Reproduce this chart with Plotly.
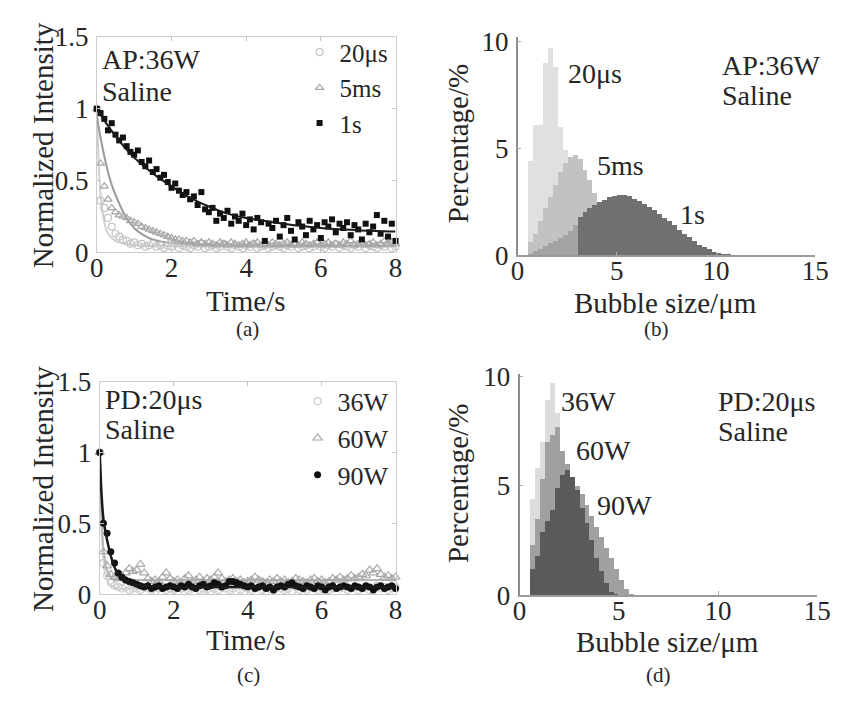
import numpy as np
import plotly.graph_objects as go

# ---------------- data ----------------
# time axis of the decay curves (s)
t = np.round(np.arange(0, 8.01, 0.1), 1)

# (a) AP:36W, saline, normalized intensity vs time
a_20us = [1.00, 0.36, 0.31, 0.24, 0.18, 0.13, 0.11, 0.09, 0.08, 0.06, 0.07, 0.05, 0.06, 0.04, 0.05, 0.06, 0.04, 0.05, 0.03, 0.05,
          0.04, 0.06, 0.03, 0.05, 0.04, 0.03, 0.05, 0.04, 0.06, 0.03,
          0.04, 0.05, 0.03, 0.04, 0.06, 0.04, 0.03, 0.05, 0.04, 0.03,
          0.05, 0.04, 0.06, 0.03, 0.04, 0.05, 0.03, 0.04, 0.05, 0.04,
          0.03, 0.05, 0.04, 0.06, 0.03, 0.04, 0.05, 0.03, 0.04, 0.06,
          0.04, 0.03, 0.05, 0.04, 0.06, 0.03, 0.05, 0.04, 0.03, 0.05,
          0.04, 0.06, 0.03, 0.05, 0.04, 0.03, 0.05, 0.04, 0.06, 0.03,
          0.04]
a_5ms = [1.00, 0.62, 0.46, 0.37, 0.31, 0.28, 0.26, 0.25, 0.24, 0.22,
         0.21, 0.20, 0.18, 0.17, 0.16, 0.15, 0.14, 0.13, 0.12, 0.11,
         0.10, 0.09, 0.09, 0.08, 0.08, 0.07, 0.08, 0.06, 0.07, 0.06,
         0.07, 0.06, 0.05, 0.07, 0.06, 0.05, 0.07, 0.06, 0.05, 0.06,
         0.07, 0.05, 0.06, 0.07, 0.05, 0.06, 0.05, 0.07, 0.06, 0.05,
         0.06, 0.07, 0.05, 0.06, 0.05, 0.07, 0.06, 0.05, 0.06, 0.07,
         0.05, 0.06, 0.07, 0.05, 0.06, 0.05, 0.07, 0.06, 0.08, 0.05,
         0.06, 0.07, 0.05, 0.06, 0.07, 0.05, 0.06, 0.08, 0.06, 0.07,
         0.06]
a_1s = [1.00, 0.97, 0.93, 0.85, 0.90, 0.82, 0.78, 0.80, 0.74, 0.70,
        0.68, 0.71, 0.63, 0.60, 0.64, 0.56, 0.58, 0.52, 0.54, 0.49,
        0.45, 0.48, 0.43, 0.40, 0.42, 0.37, 0.39, 0.33, 0.42, 0.30,
        0.28, 0.31, 0.22, 0.27, 0.24, 0.29, 0.20, 0.25, 0.22, 0.27,
        0.19, 0.23, 0.16, 0.24, 0.21, 0.08, 0.20, 0.17, 0.22, 0.11,
        0.19, 0.24, 0.15, 0.09, 0.21, 0.18, 0.12, 0.22, 0.16, 0.19,
        0.10, 0.21, 0.18, 0.23, 0.14, 0.20, 0.17, 0.21, 0.12, 0.19,
        0.16, 0.09, 0.20, 0.14, 0.18, 0.26, 0.13, 0.22, 0.11, 0.20,
        0.08]

# exponential fit curves for (a), sampled at knots
fit_1s_t = [0, 0.25, 0.5, 0.75, 1, 1.5, 2, 2.5, 3, 3.5, 4, 5, 6, 7, 8]
fit_1s = [1.0, 0.90, 0.81, 0.73, 0.66, 0.55, 0.46, 0.38, 0.32, 0.27, 0.24, 0.20, 0.17, 0.155, 0.145]
fit_5ms_t = [0, 0.1, 0.2, 0.3, 0.4, 0.5, 0.75, 1, 1.25, 1.5, 2, 3, 4, 6, 8]
fit_5ms = [0.95, 0.80, 0.67, 0.56, 0.47, 0.40, 0.26, 0.17, 0.12, 0.09, 0.065, 0.05, 0.045, 0.045, 0.045]
fit_20us_t = [0, 0.05, 0.1, 0.2, 0.3, 0.5, 0.75, 1, 2, 4, 8]
fit_20us = [1.0, 0.62, 0.40, 0.21, 0.13, 0.08, 0.06, 0.05, 0.045, 0.04, 0.04]

# (c) PD:20us, saline
c_36w = [1.00, 0.22, 0.13, 0.08, 0.06, 0.05, 0.04, 0.05, 0.03, 0.04,
         0.04, 0.03, 0.05, 0.04, 0.03, 0.02, 0.04, 0.05, 0.03, 0.04,
         0.03, 0.05, 0.04, 0.02, 0.03, 0.04, 0.05, 0.03, 0.04, 0.03,
         0.02, 0.04, 0.03, 0.05, 0.04, 0.03, 0.04, 0.02, 0.03, 0.05,
         0.04, 0.03, 0.04, 0.05, 0.03, 0.02, 0.04, 0.03, 0.05, 0.04,
         0.03, 0.04, 0.02, 0.05, 0.03, 0.04, 0.03, 0.05, 0.04, 0.03,
         0.04, 0.05, 0.03, 0.04, 0.06, 0.04, 0.05, 0.03, 0.04, 0.05,
         0.03, 0.04, 0.05, 0.03, 0.04, 0.06, 0.04, 0.05, 0.03, 0.04,
         0.05]
c_60w = [1.00, 0.30, 0.20, 0.14, 0.12, 0.11, 0.13, 0.15, 0.18, 0.16,
         0.17, 0.21, 0.15, 0.11, 0.09, 0.10, 0.09, 0.12, 0.15, 0.11,
         0.09, 0.10, 0.08, 0.11, 0.13, 0.09, 0.10, 0.12, 0.09, 0.11,
         0.10, 0.12, 0.15, 0.11, 0.09, 0.10, 0.11, 0.09, 0.10, 0.08,
         0.09, 0.10, 0.12, 0.10, 0.09, 0.08, 0.10, 0.09, 0.11, 0.09,
         0.10, 0.08, 0.09, 0.11, 0.10, 0.09, 0.08, 0.10, 0.11, 0.09,
         0.10, 0.08, 0.09, 0.11, 0.10, 0.12, 0.10, 0.11, 0.13, 0.11,
         0.12, 0.14, 0.13, 0.17, 0.15, 0.18, 0.14, 0.12, 0.13, 0.11,
         0.12]
c_90w = [1.00, 0.50, 0.43, 0.30, 0.22, 0.15, 0.12, 0.10, 0.09, 0.08,
         0.07, 0.06, 0.05, 0.06, 0.04, 0.05, 0.06, 0.04, 0.05, 0.06,
         0.05, 0.04, 0.06, 0.05, 0.07, 0.05, 0.04, 0.06, 0.07, 0.05,
         0.06, 0.08, 0.07, 0.05, 0.06, 0.09, 0.09, 0.08, 0.07, 0.06,
         0.05, 0.06, 0.04, 0.05, 0.06, 0.04, 0.05, 0.03, 0.05, 0.06,
         0.05, 0.07, 0.08, 0.06, 0.05, 0.04, 0.06, 0.05, 0.04, 0.06,
         0.05, 0.03, 0.05, 0.06, 0.04, 0.05, 0.06, 0.05, 0.04, 0.06,
         0.05, 0.04, 0.06, 0.05, 0.03, 0.05, 0.06, 0.04, 0.05, 0.06,
         0.04]

fit_90w_t = [0, 0.05, 0.1, 0.2, 0.3, 0.4, 0.5, 0.75, 1, 1.5, 2, 4, 8]
fit_90w = [1.0, 0.70, 0.53, 0.38, 0.27, 0.19, 0.14, 0.09, 0.065, 0.055, 0.05, 0.05, 0.05]
fit_60w_t = [0, 0.05, 0.1, 0.2, 0.3, 0.5, 1, 2, 8]
fit_60w = [1.0, 0.55, 0.32, 0.17, 0.12, 0.10, 0.10, 0.10, 0.10]
fit_36w_t = [0, 0.05, 0.1, 0.2, 0.3, 0.5, 1, 8]
fit_36w = [1.0, 0.45, 0.24, 0.10, 0.06, 0.04, 0.04, 0.04]

# (b), (d) bubble size histograms, 0.25 um bins starting at 0.5 um (percent)
bin_w = 0.25
bin_start = 0.5
b_20us = [4.4, 6.1, 6.1, 9.0, 9.7, 8.8, 6.0, 4.9, 3.5, 2.3, 1.3, 0.6, 0.2]
b_5ms = [0.6, 1.0, 1.6, 2.2, 2.7, 3.3, 3.9, 4.3, 4.6, 4.7, 4.5, 4.0, 3.5, 2.9, 2.3, 1.8,
         1.3, 0.9, 0.6, 0.4, 0.2, 0.1]
b_1s = [0.08, 0.18, 0.30, 0.42, 0.55, 0.68, 0.82, 0.97, 1.15, 1.40,
        1.80, 2.00, 2.20, 2.35, 2.50, 2.60, 2.70, 2.78, 2.80, 2.80,
        2.75, 2.65, 2.55, 2.40, 2.25, 2.10, 1.95, 1.75, 1.60, 1.40,
        1.20, 1.00, 0.85, 0.65, 0.50, 0.38, 0.27, 0.17, 0.10, 0.05,
        0.02, 0.01]
d_36w = [4.4, 5.8, 7.0, 8.9, 9.7, 8.3, 6.5, 4.6, 3.0, 1.8, 1.0, 0.5, 0.2]
d_60w = [2.3, 3.5, 5.3, 7.0, 7.3, 7.7, 6.6, 6.0, 5.4, 5.0, 4.6, 4.1, 3.6, 3.1, 2.65, 2.15,
         1.7, 1.2, 0.7, 0.3, 0.05]
d_90w = [1.2, 1.8, 2.9, 3.4, 3.9, 4.9, 5.5, 5.7, 5.4, 4.8, 4.0, 3.3, 2.5, 1.7, 1.1, 0.55,
         0.15, 0.05]


def edges(vals):
    return [bin_start + i * bin_w for i in range(len(vals))]


# ---------------- figure ----------------
W, H = 841, 702
FONT = "'Liberation Serif', 'Times New Roman', Times, serif"
TXT = "#262626"


def fx(p):
    return p / W


def fy(p):
    return 1 - p / H


fig = go.Figure()

# panel (a)
fig.add_trace(go.Scatter(x=fit_20us_t, y=fit_20us, mode="lines", line=dict(color="#cfcfcf", width=2, shape="spline", smoothing=0.8),
                         xaxis="x", yaxis="y", showlegend=False))
fig.add_trace(go.Scatter(x=fit_5ms_t, y=fit_5ms, mode="lines", line=dict(color="#9a9a9a", width=2, shape="spline", smoothing=0.8),
                         xaxis="x", yaxis="y", showlegend=False))
fig.add_trace(go.Scatter(x=t, y=a_20us, mode="markers", name="20\u03bcs",
                         marker=dict(symbol="circle-open", size=7, color="#c4c4c4", line=dict(width=1.2)),
                         xaxis="x", yaxis="y", legend="legend", cliponaxis=False))
fig.add_trace(go.Scatter(x=t, y=a_5ms, mode="markers", name="5ms",
                         marker=dict(symbol="triangle-up-open", size=7, color="#a6a6a6", line=dict(width=1.2)),
                         xaxis="x", yaxis="y", legend="legend", cliponaxis=False))
fig.add_trace(go.Scatter(x=t, y=a_1s, mode="markers", name="1s",
                         marker=dict(symbol="square", size=6, color="#111111"),
                         xaxis="x", yaxis="y", legend="legend", cliponaxis=False))
fig.add_trace(go.Scatter(x=fit_1s_t, y=fit_1s, mode="lines", line=dict(color="#1a1a1a", width=2, shape="spline", smoothing=0.8),
                         xaxis="x", yaxis="y", showlegend=False))

# panel (b): back to front 20us, 5ms, 1s
b_1s_colors = ["#a3a3a3" if e < 3.0 else "#707070" for e in edges(b_1s)]
for vals, col in [(b_20us, "#e0e0e0"), (b_5ms, "#c2c2c2"), (b_1s, b_1s_colors)]:
    fig.add_trace(go.Bar(x=edges(vals), y=vals, width=bin_w, offset=0, marker=dict(color=col, line=dict(width=0)),
                         xaxis="x2", yaxis="y2", showlegend=False))

# panel (c)
fig.add_trace(go.Scatter(x=fit_36w_t, y=fit_36w, mode="lines", line=dict(color="#d6d6d6", width=2, shape="spline", smoothing=0.8),
                         xaxis="x3", yaxis="y3", showlegend=False))
fig.add_trace(go.Scatter(x=fit_60w_t, y=fit_60w, mode="lines", line=dict(color="#b4b4b4", width=2, shape="spline", smoothing=0.8),
                         xaxis="x3", yaxis="y3", showlegend=False))
fig.add_trace(go.Scatter(x=t, y=c_36w, mode="markers", name="36W",
                         marker=dict(symbol="circle-open", size=7, color="#cccccc", line=dict(width=1.2)),
                         xaxis="x3", yaxis="y3", legend="legend2", cliponaxis=False))
fig.add_trace(go.Scatter(x=t, y=c_60w, mode="markers", name="60W",
                         marker=dict(symbol="triangle-up-open", size=8, color="#aaaaaa", line=dict(width=1.2)),
                         xaxis="x3", yaxis="y3", legend="legend2", cliponaxis=False))
fig.add_trace(go.Scatter(x=t, y=c_90w, mode="markers", name="90W",
                         marker=dict(symbol="circle", size=7, color="#111111"),
                         xaxis="x3", yaxis="y3", legend="legend2", cliponaxis=False))
fig.add_trace(go.Scatter(x=fit_90w_t, y=fit_90w, mode="lines", line=dict(color="#1a1a1a", width=2.5, shape="spline", smoothing=0.8),
                         xaxis="x3", yaxis="y3", showlegend=False))

# panel (d): back to front 36W, 60W, 90W
for vals, col in [(d_36w, "#dcdcdc"), (d_60w, "#a0a0a0"), (d_90w, "#5a5a5a")]:
    fig.add_trace(go.Bar(x=edges(vals), y=vals, width=bin_w, offset=0, marker=dict(color=col, line=dict(width=0)),
                         xaxis="x4", yaxis="y4", showlegend=False))

tickfont = dict(family=FONT, size=27, color=TXT)

decay_x = dict(range=[0, 8], tickvals=[0, 2, 4, 6, 8], showline=True, mirror="ticks", linecolor="#cccccc", linewidth=1,
               ticks="inside", ticklen=4, tickcolor="#c4c4c4", tickfont=tickfont, showgrid=False, zeroline=False,
               ticklabelstandoff=-9)
decay_y = dict(range=[0, 1.5], tickvals=[0, 0.5, 1, 1.5], ticktext=["0", "0.5", "1", "1.5"], showline=True, mirror="ticks",
               linecolor="#cccccc", linewidth=1, ticks="inside", ticklen=4, tickcolor="#c4c4c4", tickfont=tickfont,
               showgrid=False, zeroline=False, ticklabelstandoff=2)
hist_x = dict(range=[0, 15], tickvals=[0, 5, 10, 15], showline=True, linecolor="#9a9a9a", linewidth=1.5, ticks="inside",
              ticklen=4, tickcolor="#aaaaaa", tickfont=tickfont, showgrid=False, zeroline=False, ticklabelstandoff=-9)
hist_y = dict(tickvals=[0, 5, 10], showline=True, linecolor="#8c8c8c", linewidth=1.5, ticks="inside", ticklen=4,
              tickcolor="#aaaaaa", tickfont=tickfont, showgrid=False, zeroline=False, ticklabelstandoff=2)

fig.update_layout(
    width=W, height=H, margin=dict(l=0, r=0, t=0, b=0),
    paper_bgcolor="white", plot_bgcolor="white",
    barmode="overlay", bargap=0,
    font=dict(family=FONT, size=27, color=TXT),
    xaxis=dict(decay_x, domain=[fx(92), fx(398)], anchor="y"),
    yaxis=dict(decay_y, domain=[fy(248), fy(23)], anchor="x"),
    xaxis2=dict(hist_x, domain=[fx(523), fx(828)], anchor="y2"),
    yaxis2=dict(hist_y, range=[0, 10.2], domain=[fy(251), fy(23)], anchor="x2"),
    xaxis3=dict(decay_x, domain=[fx(95), fx(398)], anchor="y3"),
    yaxis3=dict(decay_y, domain=[fy(605), fy(383)], anchor="x3"),
    xaxis4=dict(hist_x, domain=[fx(525), fx(830)], anchor="y4"),
    yaxis4=dict(hist_y, range=[0, 10.1], domain=[fy(606), fy(375)], anchor="x4"),
    legend=dict(x=fx(396), y=fy(15), xanchor="right", yanchor="top", bgcolor="rgba(0,0,0,0)",
                font=dict(family=FONT, size=25, color=TXT), itemwidth=30, tracegroupgap=0),
    legend2=dict(x=fx(396), y=fy(379), xanchor="right", yanchor="top", bgcolor="rgba(0,0,0,0)",
                 font=dict(family=FONT, size=26, color=TXT), itemwidth=30, tracegroupgap=0),
)

ann = []


def paper_text(text, x, y, size=28, angle=0, xanchor="center"):
    ann.append(dict(text=text, x=fx(x), y=fy(y), xref="paper", yref="paper", showarrow=False, textangle=angle,
                    xanchor=xanchor, yanchor="middle", font=dict(family=FONT, size=size, color=TXT)))


def data_text(text, x, y, xr, yr, xanchor="center", size=27):
    ann.append(dict(text=text, x=x, y=y, xref=xr, yref=yr, showarrow=False, xanchor=xanchor, yanchor="middle",
                    font=dict(family=FONT, size=size, color=TXT)))


# axis titles and panel tags
paper_text("Normalized Intensity", 37, 136, size=29, angle=-90)
paper_text("Time/s", 245, 299, size=29)
paper_text("(a)", 246, 328, size=21)
paper_text("Percentage/%", 462, 135, size=29, angle=-90)
paper_text("Bubble size/\u03bcm", 675, 301, size=29)
paper_text("(b)", 665, 328, size=21)
paper_text("Normalized Intensity", 37, 495, size=29, angle=-90)
paper_text("Time/s", 245, 653, size=29)
paper_text("(c)", 247, 689, size=21)
paper_text("Percentage/%", 462, 490, size=29, angle=-90)
paper_text("Bubble size/\u03bcm", 677, 655, size=29)
paper_text("(d)", 667, 689, size=21)

# condition labels
paper_text("AP:36W", 95, 47, size=28, xanchor="left")
paper_text("Saline", 95, 80, size=28, xanchor="left")
paper_text("PD:20\u03bcs", 98, 402, size=28, xanchor="left")
paper_text("Saline", 98, 433, size=28, xanchor="left")

data_text("20\u03bcs", 3.9, 8.5, "x2", "y2", size=28)
data_text("5ms", 5.2, 4.2, "x2", "y2", size=28)
data_text("1s", 8.8, 1.9, "x2", "y2", size=28)
data_text("AP:36W", 10.2, 8.85, "x2", "y2", xanchor="left", size=28)
data_text("Saline", 10.2, 7.45, "x2", "y2", xanchor="left", size=28)

data_text("36W", 3.5, 8.85, "x4", "y4", size=28)
data_text("60W", 4.25, 6.6, "x4", "y4", size=28)
data_text("90W", 5.3, 4.1, "x4", "y4", size=28)
data_text("PD:20\u03bcs", 9.9, 8.85, "x4", "y4", xanchor="left", size=28)
data_text("Saline", 9.9, 7.45, "x4", "y4", xanchor="left", size=28)

fig.update_layout(annotations=ann)

fig.write_html("out.html")
